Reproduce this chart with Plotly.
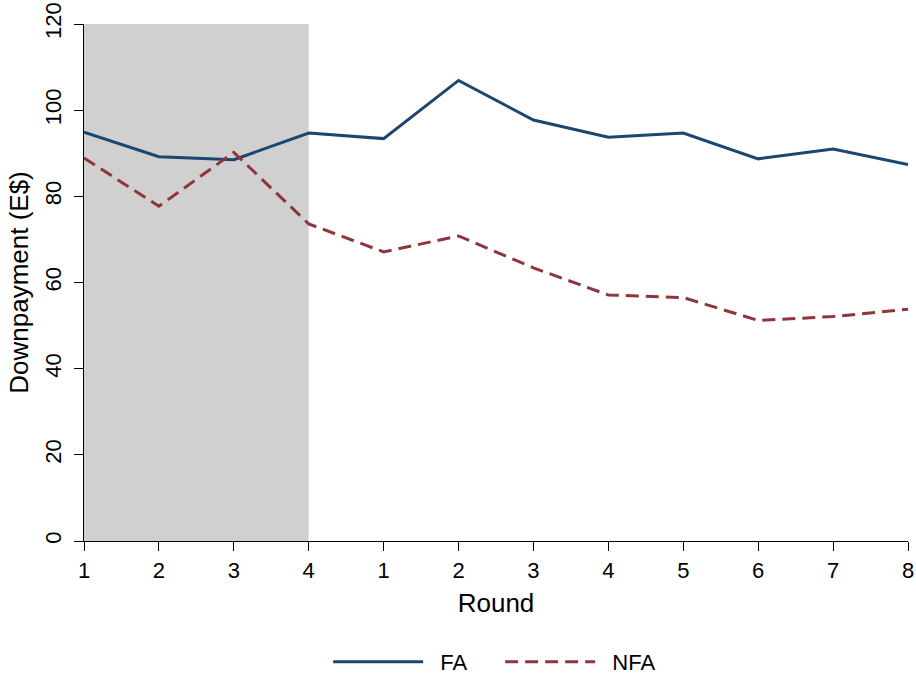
import plotly.graph_objects as go

tick_labels = ["1", "2", "3", "4", "1", "2", "3", "4", "5", "6", "7", "8"]
positions = list(range(len(tick_labels)))
fa = [94.9, 89.2, 88.5, 94.7, 93.4, 106.9, 97.7, 93.7, 94.7, 88.7, 91.0, 87.4]
nfa = [88.9, 77.7, 90.2, 73.6, 67.1, 70.8, 63.4, 57.1, 56.5, 51.2, 52.1, 53.8]
practice_end = 3
y_ticks = [0, 20, 40, 60, 80, 100, 120]

font = "Liberation Sans, Arial, sans-serif"

fig = go.Figure()
fig.add_shape(type="rect", xref="x", yref="y", x0=0, x1=practice_end, y0=0, y1=120,
              fillcolor="#d0d0d0", line_width=0, layer="below")
fig.add_trace(go.Scatter(x=positions, y=fa, mode="lines", name="  FA",
                         line=dict(color="#1a476f", width=3)))
fig.add_trace(go.Scatter(x=positions, y=nfa, mode="lines", name="  NFA",
                         line=dict(color="#90353b", width=3, dash="13px,7px")))

fig.update_layout(
    width=916, height=677,
    margin=dict(l=84, r=8, t=24, b=136, autoexpand=False),
    paper_bgcolor="white", plot_bgcolor="white",
    font=dict(family=font, size=22, color="black"),
    showlegend=True,
    legend=dict(orientation="h", x=0.505, xanchor="center", y=-0.234, yanchor="middle",
                itemwidth=90, entrywidth=67, entrywidthmode="pixels",
                font=dict(size=22)),
)
fig.update_xaxes(range=[0, 11], tickvals=positions, ticktext=tick_labels,
                 automargin=False, tickfont=dict(size=22),
                 showgrid=False, zeroline=False, showline=True, linecolor="black",
                 linewidth=1.2, ticks="outside", ticklen=9, tickcolor="black",
                 title=dict(text="Round", standoff=12))
fig.update_yaxes(range=[0, 120], tickvals=y_ticks, tickangle=-90,
                 automargin=False, tickfont=dict(size=22), ticklabelstandoff=4,
                 showgrid=False, zeroline=False, showline=True, linecolor="black",
                 linewidth=1.2, ticks="outside", ticklen=9, tickcolor="black",
                 title=dict(text="Downpayment (E$)", standoff=4))

post = ("document.body.style.margin='0';document.body.style.overflow='hidden';"
        "Plotly.Plots.resize(document.getElementById('{plot_id}'));")
fig.write_html("out.html", post_script=post, config={"displayModeBar": False})
